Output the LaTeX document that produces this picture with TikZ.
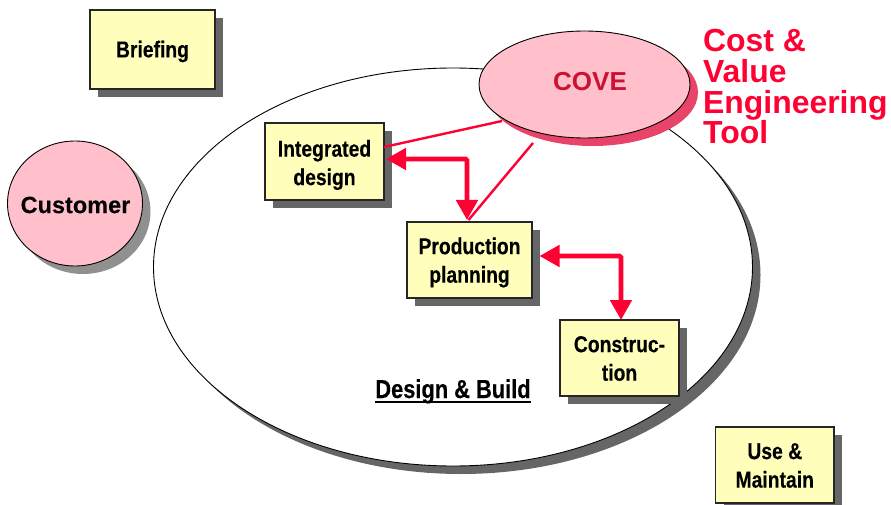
\documentclass[tikz,border=0pt]{standalone}
\usepackage{fontspec}
\setmainfont{Liberation Sans}
\newfontfamily\narrowbold[FakeStretch=0.84,FakeBold=0.25]{Liberation Sans Bold}
\newfontfamily\plainbold[FakeBold=0.1]{Liberation Sans Bold}
\usetikzlibrary{arrows.meta,shapes.geometric,calc}
\definecolor{boxfill}{HTML}{FFFFBB}
\definecolor{pinkfill}{HTML}{FFC0CB}
\definecolor{shadowgrey}{HTML}{666666}
\definecolor{lightshadow}{HTML}{909090}
\definecolor{covered}{HTML}{E8446A}
\definecolor{linered}{HTML}{FF0033}
\definecolor{covetext}{HTML}{CC1133}
\tikzset{
  x=1pt,y=-1pt,
  stagebox/.style={draw=black!85,line width=1.1pt,fill=boxfill,inner sep=0pt,outer sep=0pt},
  stagetext/.style={inner sep=0pt,outer sep=0pt,align=center,font=\narrowbold\fontsize{23}{28.5}\selectfont},
  thinred/.style={draw=linered,line width=2.4pt},
  thickred/.style={draw=linered,line width=4.8pt,rounded corners=1.5pt,{Triangle[length=20pt,width=21pt]}-{Triangle[length=20pt,width=21pt]}},
  oval/.style={ellipse,draw=black,line width=0.9pt,inner sep=0pt,outer sep=0pt},
}
\newcommand{\stage}[7]{% name, x0,y0,x1,y1,text,text shift
  \fill[shadowgrey] (#2+8,#3+8) rectangle (#4+8,#5+8);
  \node[stagebox,minimum width={#4-#2},minimum height={#5-#3}] (#1) at ({(#2+#4)/2},{(#3+#5)/2}) {};
  \node[stagetext] (#1text) at ({(#2+#4)/2},{(#3+#5)/2+#7}) {#6};
}
\begin{document}
\begin{tikzpicture}
\useasboundingbox (0,0) rectangle (891,505);
% Design & Build ellipse
\fill[shadowgrey] (461,275) ellipse [x radius=299.5,y radius=199];
\node[oval,fill=white,minimum width=599,minimum height=398] (build) at (453,267) {};
% Customer
\fill[lightshadow] (83,211.5) ellipse [x radius=67.5,y radius=62.5];
\node[oval,fill=pinkfill,minimum width=135,minimum height=125] (customer) at (75,203.5) {};
\node[inner sep=0pt,font=\plainbold\fontsize{23.5}{28}\selectfont] (customertext) at (75.5,205) {Customer};
% boxes
\stage{briefing}{90}{10}{215}{89}{Briefing}{2}
\stage{integrated}{265}{123}{384}{200}{Integrated\\design}{3.5}
\stage{production}{407}{222}{532}{298}{Production\\planning}{2.5}
\stage{construction}{560}{320}{679}{396}{Construc-\\tion}{0.5}
\stage{maintain}{715.5}{427}{834}{503}{Use \&\\Maintain}{0.5}
% COVE
\fill[covered] (592.5,92.5) ellipse [x radius=105.5,y radius=53.5];
\node[oval,fill=pinkfill,minimum width=211,minimum height=107] (cove) at (584.5,84.5) {};
\node[inner sep=0pt,text=covetext,font=\bfseries\fontsize{26}{30}\selectfont] (covetext) at (590,81.5) {COVE};
% title
\node[anchor=north west,inner sep=0pt,align=left,text=linered,font=\bfseries\fontsize{31.9}{30.8}\selectfont] (title) at (703,29) {Cost \&\\Value\\Engineering\\Tool};
% connectors
\coordinate (c1) at (502,121);
\coordinate (c2) at (533,143);
\draw[thinred] (c1) -- ($(integrated.east)+(0,-14.5)$);
\draw[thinred] (c2) -- ($(production.north)+(-1,-2)$);
\draw[thickred] ($(integrated.east)+(2,-2.5)$) -| ($(production.north)+(-2.5,-2)$);
\draw[thickred] ($(production.east)+(7.5,-4)$) -| ($(construction.north)+(1.5,0)$);
% label
\node[anchor=base,inner sep=0pt,outer sep=0pt,font=\narrowbold\fontsize{26}{28}\selectfont] (dbl) at (453,398) {Design \& Build};
\draw[black,line width=2.2pt] ($(dbl.base west)+(0,4)$) -- ($(dbl.base east)+(0,4)$);
\end{tikzpicture}
\end{document}
